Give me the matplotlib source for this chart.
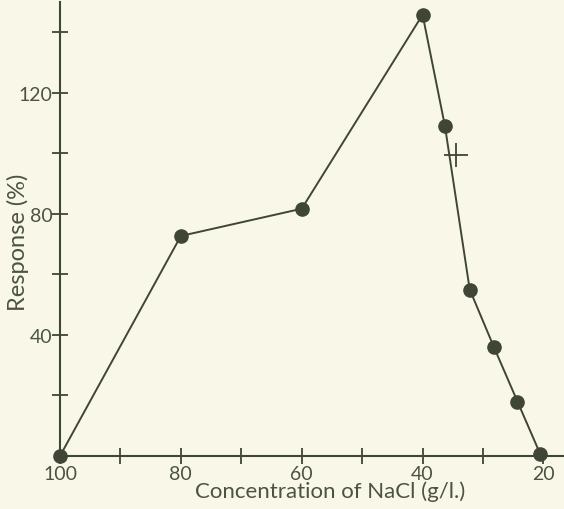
import numpy as np
import matplotlib
matplotlib.use("Agg")
import matplotlib.pyplot as plt

plt.rcParams['font.family'] = ['Lato', 'DejaVu Sans']

# data
conc = [100, 80, 60, 40, 36.3, 32.2, 28.2, 24.3, 20.5]
response = [0, 72.7, 81.7, 145.8, 109, 55, 36, 18, 0.5]
cross_x, cross_y = 34.5, 99.5

xticks = np.arange(20, 101, 10)
xlabels = ['20', '', '40', '', '60', '', '80', '', '100']
yticks = np.arange(20, 141, 20)
ylabels = ['', '40', '', '80', '', '120', '']

bg = '#f9f8e8'
ink = '#3f4636'
txt = '#4c5343'

fig = plt.figure(figsize=(5.64, 5.10), dpi=100, facecolor=bg)
ax = fig.add_axes([60/564, 53/510, 1 - 60/564, (457 - 3)/510], facecolor=bg)

ax.plot(conc, response, '-', color=ink, lw=1.4, marker='o', ms=9.5,
        mfc=ink, mec=ink, clip_on=False, zorder=3)
ax.plot(cross_x, cross_y, marker='+', ms=17, mew=1.3, color=ink, zorder=4)

ax.set_xlim(100, 16.6)
ax.set_ylim(0, 150)
ax.set_xticks(xticks)
ax.set_xticklabels(xlabels)
ax.set_yticks(yticks)
ax.set_yticklabels(ylabels)

for s in ['top', 'right']:
    ax.spines[s].set_visible(False)
for s in ['left', 'bottom']:
    ax.spines[s].set_color(ink)
    ax.spines[s].set_linewidth(1.5)

ax.tick_params(direction='inout', length=11, width=1.3, color=ink,
               labelcolor=txt, labelsize=14, pad=1)
ax.tick_params(axis='y', pad=0)

ax.set_xlabel('Concentration of NaCl (g/l.)', color=txt, fontsize=16)
ax.xaxis.set_label_coords((330 - 60)/504, -35/454, transform=ax.transAxes)
ax.xaxis.label.set_va('center')
ax.set_ylabel('Response (%)', color=txt, fontsize=17)
ax.yaxis.set_label_coords(-42/504, (457 - 242)/454, transform=ax.transAxes)
ax.yaxis.label.set_va('center')

fig.savefig('out.png', dpi=100, facecolor=bg)
